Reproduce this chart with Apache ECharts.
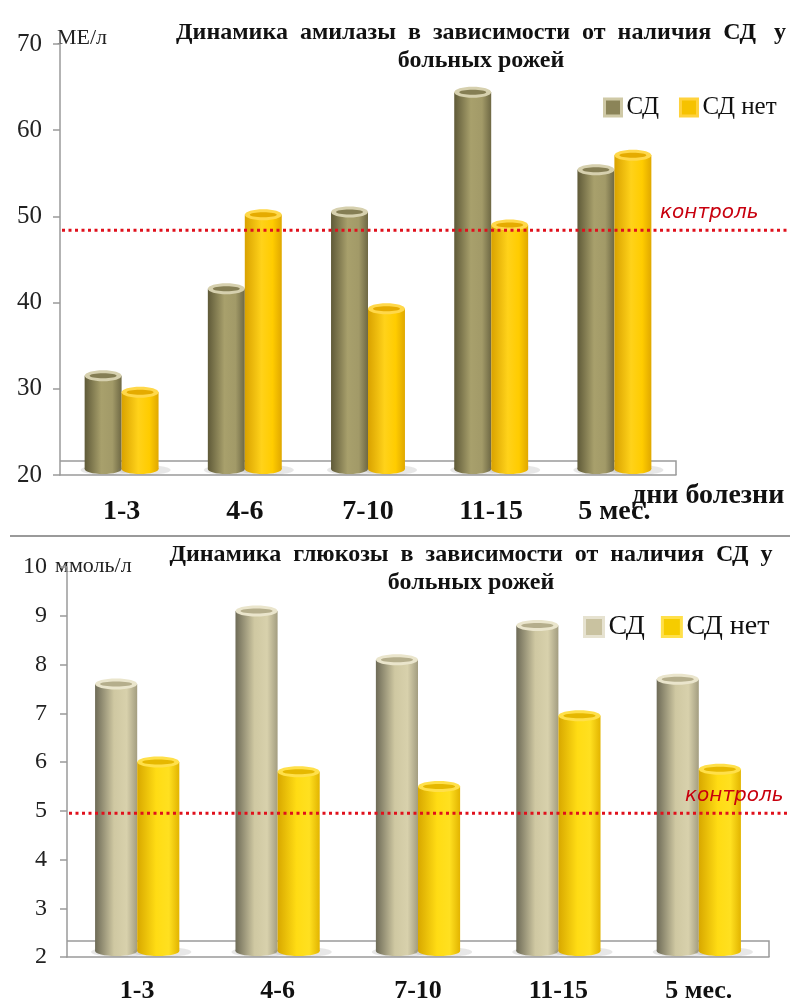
<!DOCTYPE html>
<html>
<head>
<meta charset="utf-8">
<script src="https://cdn.jsdelivr.net/npm/echarts@6/dist/echarts.min.js"></script>
<style>
  html, body { margin: 0; padding: 0; background: #fff; }
  #main { width: 790px; height: 1004px; }
</style>
</head>
<body>
<div id="main"></div>
<script>
// ---- данные ----
const categories = ['1-3', '4-6', '7-10', '11-15', '5 мес.'];
const seriesNames = ['СД', 'СД нет'];

const amylaseSD = [31.5, 41.6, 50.5, 64.4, 55.4];
const amylaseNoSD = [29.6, 50.2, 39.3, 49.0, 57.1];
const amylaseControl = 48.4;
const amylaseTicks = { min: 20, max: 70, interval: 10 };

const glucoseSD = [7.6, 9.1, 8.1, 8.8, 7.7];
const glucoseNoSD = [6.0, 5.8, 5.5, 6.95, 5.85];
const glucoseControl = 4.95;
const glucoseTicks = { min: 2, max: 10, interval: 1 };

// ---- цвета цилиндров ----
const palette = {
  olive: { body: ['#5f5a38', '#a8a06c', '#a29a68', '#6e6844'], ring: '#d6d0ae', inner: '#857e54', legend: '#8b8458', legendBorder: '#cfc9a6' },
  yellowA: { body: ['#d9a200', '#ffd21a', '#ffcc00', '#e0a800'], ring: '#ffd84a', inner: '#e5ab00', legend: '#f6c200', legendBorder: '#ffd23c' },
  beige: { body: ['#6e6b57', '#cfc8a2', '#d8d1ac', '#a39d80'], ring: '#eae5cc', inner: '#b5ae8c', legend: '#c9c2a0', legendBorder: '#e6e2d0' },
  yellowB: { body: ['#d8a800', '#ffdc14', '#ffe020', '#e2b400'], ring: '#ffe04a', inner: '#e6b800', legend: '#f6cc00', legendBorder: '#ffe04a' }
};

const serif = '"Liberation Serif", "Times New Roman", serif';
const axisColor = '#9a9a9a';

function cylinder(col, slot, axisMin) {
  return function (params, api) {
    const cat = api.value(0);
    const val = api.value(1);
    const top = api.coord([cat, val]);
    const base = api.coord([cat, axisMin]);
    const band = api.size([1, 0])[0];
    const w = band * 0.3;
    const cx = top[0] + (slot === 0 ? -w / 2 : w / 2);
    const by = base[1] - 6;
    const ty = top[1];
    const ry = 5;
    const grad = new echarts.graphic.LinearGradient(0, 0, 1, 0, [
      { offset: 0, color: col.body[0] },
      { offset: 0.45, color: col.body[1] },
      { offset: 0.75, color: col.body[2] },
      { offset: 1, color: col.body[3] }
    ]);
    return {
      type: 'group',
      children: [
        // тень на полу
        { type: 'ellipse', shape: { cx: cx + 4, cy: by + 1, rx: w / 2 + 8, ry: ry }, style: { fill: 'rgba(120,120,120,0.18)' } },
        { type: 'ellipse', shape: { cx: cx, cy: by, rx: w / 2, ry: ry }, style: { fill: grad } },
        { type: 'rect', shape: { x: cx - w / 2, y: ty, width: w, height: by - ty }, style: { fill: grad } },
        { type: 'ellipse', shape: { cx: cx, cy: ty, rx: w / 2, ry: ry + 0.5 }, style: { fill: col.ring } },
        { type: 'ellipse', shape: { cx: cx, cy: ty, rx: w / 2 - 5, ry: ry - 2.5 }, style: { fill: col.inner } }
      ]
    };
  };
}

function cylSeries(name, values, col, slot, grid, axisMin) {
  return {
    name: name,
    type: 'custom',
    xAxisIndex: grid,
    yAxisIndex: grid,
    itemStyle: { color: col.legend },
    renderItem: cylinder(col, slot, axisMin),
    data: values.map((v, i) => [i, v])
  };
}

function yAxisOf(grid, ticks, fontSize, margin) {
  return {
    gridIndex: grid,
    type: 'value',
    min: ticks.min,
    max: ticks.max,
    interval: ticks.interval,
    splitLine: { show: false },
    axisLine: { show: true, lineStyle: { color: axisColor, width: 1.5 } },
    axisTick: { show: true, length: 7, lineStyle: { color: axisColor, width: 1.5 } },
    axisLabel: { color: '#222', fontFamily: serif, fontSize: fontSize, margin: margin }
  };
}

function xAxisOf(grid, fontSize, margin) {
  return {
    gridIndex: grid,
    type: 'category',
    data: categories,
    axisLine: { lineStyle: { color: axisColor, width: 1.5 } },
    axisTick: { length: 7, lineStyle: { color: axisColor, width: 1.5 } },
    axisLabel: { color: '#111', fontFamily: serif, fontWeight: 'bold', fontSize: fontSize, margin: margin, interval: 0 }
  };
}

function legendOf(left, top, size, fontSize, gap, cols) {
  return {
    left: left,
    top: top,
    padding: 0,
    itemWidth: size,
    itemHeight: size,
    itemGap: gap,
    icon: 'rect',
    textStyle: { fontFamily: serif, fontSize: fontSize, color: '#111' },
    data: seriesNames.map((n, i) => ({
      name: n,
      itemStyle: { color: cols[i].legend, borderColor: cols[i].legendBorder, borderWidth: 3 }
    }))
  };
}

const chart = echarts.init(document.getElementById('main'));

chart.setOption({
  animation: false,
  grid: [
    { left: 60, top: 44, width: 616, height: 431 },
    { left: 67, top: 567, width: 702, height: 392 }
  ],
  xAxis: [xAxisOf(0, 28, 23), xAxisOf(1, 26, 21)],
  yAxis: [yAxisOf(0, amylaseTicks, 25, 18), yAxisOf(1, glucoseTicks, 24, 20)],
  legend: [
    legendOf(603, 95, 17, 25, 20, [palette.olive, palette.yellowA]),
    legendOf(583, 613, 19, 28, 16, [palette.beige, palette.yellowB])
  ],
  series: [
    cylSeries('СД', amylaseSD, palette.olive, 0, 0, amylaseTicks.min),
    cylSeries('СД нет', amylaseNoSD, palette.yellowA, 1, 0, amylaseTicks.min),
    cylSeries('СД', glucoseSD, palette.beige, 0, 1, glucoseTicks.min),
    cylSeries('СД нет', glucoseNoSD, palette.yellowB, 1, 1, glucoseTicks.min)
  ]
});

// ---- оформление: заголовки, пол, контрольные линии ----
function px(grid, x, y) {
  return chart.convertToPixel({ gridIndex: grid }, [x, y]);
}

const g0 = px(0, 0, amylaseTicks.min);
const left0 = 60, right0 = 60 + 616;
const c0 = px(0, 0, amylaseControl);

const g1 = px(1, 0, glucoseTicks.min);
const left1 = 67, right1 = 67 + 702;
const c1 = px(1, 0, glucoseControl);

const redDot = { stroke: '#e0101c', lineWidth: 3, lineDash: [3, 3.5] };
const floorStyle = { fill: 'none', stroke: axisColor, lineWidth: 1.5 };
const titleStyle = { fontFamily: serif, fontWeight: 'bold', fontSize: 24, fill: '#111', textAlign: 'center', lineHeight: 28 };
const controlStyle = { fontFamily: '"DejaVu Sans", Verdana, sans-serif', fontStyle: 'italic', fontSize: 20, fill: '#c8000e' };

chart.setOption({
  graphic: [
    // пол диаграмм
    { type: 'polyline', z: 0, shape: { points: [[left0, g0[1] - 14], [right0, g0[1] - 14], [right0, g0[1]]] }, style: floorStyle },
    { type: 'polyline', z: 0, shape: { points: [[left1, g1[1] - 16], [right1, g1[1] - 16], [right1, g1[1]]] }, style: floorStyle },
    // контроль
    { type: 'line', z: 10, shape: { x1: left0 + 2, y1: c0[1], x2: 787, y2: c0[1] }, style: redDot },
    { type: 'text', z: 10, x: 660, y: c0[1] - 27, style: Object.assign({ text: 'контроль' }, controlStyle) },
    { type: 'line', z: 10, shape: { x1: left1 + 2, y1: c1[1], x2: 787, y2: c1[1] }, style: redDot },
    { type: 'text', z: 10, x: 685, y: c1[1] - 27, style: Object.assign({ text: 'контроль' }, controlStyle) },
    // заголовки
    { type: 'text', x: 481, y: 19, style: Object.assign({ text: 'Динамика  амилазы  в  зависимости  от  наличия  СД   у\nбольных рожей' }, titleStyle) },
    { type: 'text', x: 471, y: 541, style: Object.assign({ text: 'Динамика  глюкозы  в  зависимости  от  наличия  СД  у\nбольных рожей' }, titleStyle) },
    // единицы
    { type: 'text', x: 57, y: 27, style: { text: 'МЕ/л', fontFamily: serif, fontSize: 22, fill: '#222' } },
    { type: 'text', x: 55, y: 555, style: { text: 'ммоль/л', fontFamily: serif, fontSize: 22, fill: '#222' } },
    { type: 'text', x: 632, y: 482, style: { text: 'дни болезни', fontFamily: serif, fontWeight: 'bold', fontSize: 28, fill: '#111' } },
    // разделитель
    { type: 'line', shape: { x1: 10, y1: 536, x2: 790, y2: 536 }, style: { stroke: '#9a9a9a', lineWidth: 2 } }
  ]
});
</script>
</body>
</html>
